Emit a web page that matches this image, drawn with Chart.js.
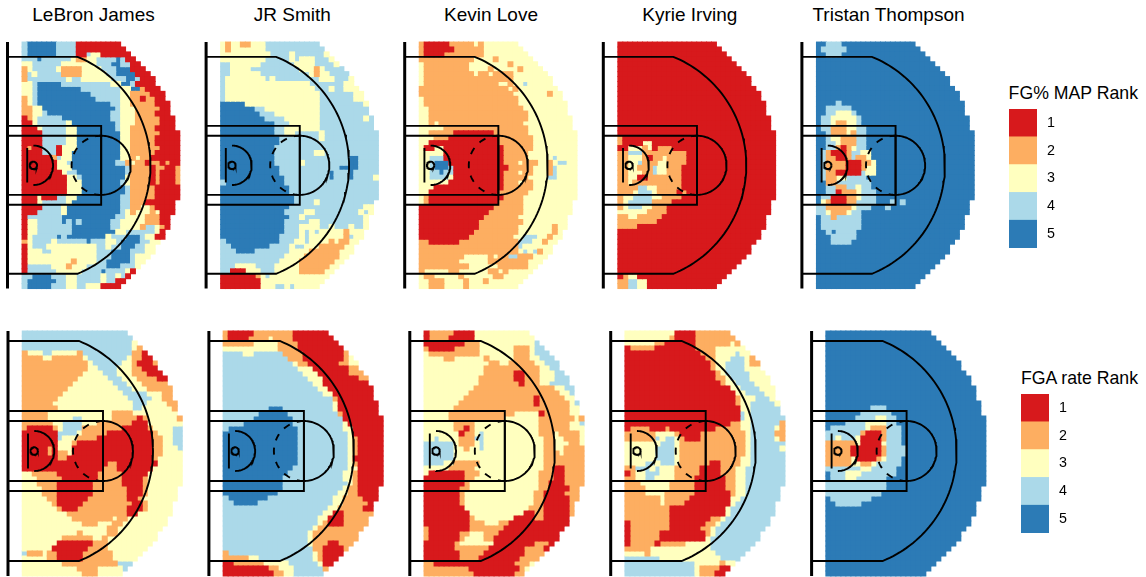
<!DOCTYPE html>
<html><head><meta charset="utf-8">
<script src="https://cdn.jsdelivr.net/npm/chart.js@4"></script>
<style>
html,body{margin:0;padding:0;background:#fff;overflow:hidden}
body{position:relative;width:1146px;height:577px;font-family:"Liberation Sans",Arial,sans-serif;color:#000}
canvas{position:absolute;display:block}
.t{position:absolute;white-space:nowrap;line-height:20px}
</style></head><body>
<script>
// Player names and legend text
const players = ["LeBron James","JR Smith","Kevin Love","Kyrie Irving","Tristan Thompson"];
const rankLabels = ["1","2","3","4","5"];
const rankColors = ["#D7191C","#FDAE61","#FFFFBF","#ABD9E9","#2C7BB6"];
const legendTitles = ["FG% MAP Rank","FGA rate Rank"];
// Number of 1-ft cells per row (half-court outline)
const rowWidths = [20,21,22,23,24,25,26,27,27,28,29,29,30,30,30,31,31,31,32,32,32,32,32,32,32,32,32,32,32,32,32,32,31,31,31,30,30,30,29,29,28,27,27,26,25,24,23,22,21,20];
// Ranks per row: token = rank digit + run length; a bare digit runs to the end of the row
const lebronFg = ["41 56 44 1","41 56 44 1","41 56 44 12 41 32 1","43 51 46 31 22 32 44 51 41 1","32 46 37 43 52 42 1","21 31 45 31 24 34 43 53 1","21 41 31 45 24 35 42 54 1","21 48 31 42 36 43 52 41 1","32 41 55 44 46 32 52 41 1","32 41 59 48 32 52 21 1","32 41 511 46 32 24 1","21 31 41 512 45 32 22 11 22 1","21 31 41 515 42 32 25 1","22 32 515 41 33 25 1","22 32 41 513 42 33 24 1","11 21 31 45 510 42 33 25 1","12 31 46 31 59 41 33 25 1","13 31 45 32 58 41 32 25 1","14 45 32 59 32 26 1","14 45 32 59 32 25 1","14 45 32 59 32 25 1","11 21 12 43 11 33 59 32 26 1","14 43 11 32 510 32 25 1","16 21 41 32 510 32 21 31 22 1","17 32 41 59 42 21 31 22 11 22 11 21 1","17 33 511 41 24 11 22 12 2","18 31 42 510 41 24 11 21 13 2","19 32 41 59 31 24 11 21 13 2","19 33 58 41 31 24 11 21 13 2","19 33 59 41 25 1","19 33 59 41 25 1","13 31 13 42 32 59 42 25 1","13 31 45 31 510 42 23 1","14 44 31 511 42 22 32 21 1","13 45 31 511 41 31 21 33 21 31 1","11 47 511 42 34 23 1","11 32 45 51 41 51 41 56 42 35 23 1","11 32 47 58 42 34 21 42 31 21 1","11 32 47 59 32 46 31 1","11 31 45 51 41 58 31 43 53 41 32 1","21 31 44 31 46 51 43 32 41 54 42 3","11 31 43 310 42 31 42 53 42 3","11 33 42 39 43 54 43 3","11 314 43 54 41 3","11 39 21 34 42 55 41 3","11 45 33 21 33 44 53 43 3","11 46 35 44 51 44 31 1","42 54 43 32 45 31 42 31 41 1","41 56 42 32 45 31 42 1","41 55 43 32 42 33 1"];
const jrFg = ["31 21 32 22 33 4","31 21 37 4","310 44 31 46 31 4","39 45 31 41 33 43 3","42 36 47 34 44 3","42 34 410 33 21 31 4","42 36 410 31 21 32 4","41 38 41 31 49 33 43 31 4","41 317 47 3","41 318 43 31 42 3","41 319 47 3","41 319 47 3","55 315 49 3","57 42 311 4","58 43 39 4","59 44 37 49 31 4","511 43 36 4","511 42 37 4","511 42 32 45 31 4","512 48 31 4","512 4","511 4","511 48 32 4","511 415 52 4","511 45 31 49 52 4","512 412 54 4","512 410 51 43 51 4","513 49 51 43 51 44 3","41 512 4","514 4","514 4","515 4","515 44 31 4","514 415 32","513 44 32 49 31 41 3","514 42 31 412 3","513 45 32 49 3","513 43 34 42 31 43 31 42 3","513 43 31 41 31 41 35 21 33","512 44 31 41 37 21 41 3","41 511 43 32 41 34 21 31 22 3","42 58 44 31 42 33 25 3","43 54 47 34 26 3","413 34 27 3","412 34 27 3","43 34 44 35 26 3","42 13 33 43 35 25 3","17 21 31 41 3","18 3","18 33 42 31 41 3"];
const loveFg = ["21 15 25 31 21 3","21 16 26 3","21 14 28 3","211 34 21 3","31 29 38 21 3","31 29 34 21 35 21 3","31 210 31 22 31 24 3","31 218 3","31 215 32 21 32 41 3","218 31 21 3","219 37 21 3","31 219 3","31 219 3","32 219 3","32 220 3","32 220 3","32 21 31 217 3","35 217 3","32 25 18 27 3","33 23 110 27 3","32 114 27 3","31 12 32 112 26 3","35 112 25 3","32 43 112 25 35 41 3","32 41 53 111 23 31 23 32 21 31 42 3","32 41 53 41 111 25 33 21 41 3","32 42 51 42 110 23 31 22 33 21 41 3","32 44 31 110 25 34 42 3","36 111 23 31 22 3","33 114 26 3","32 114 26 3","31 21 115 24 3","31 21 114 25 3","115 26 3","114 27 3","113 27 3","112 29 3","112 28 37 21 3","111 29 37 21 3","110 29 32 43 32 21 3","22 16 212 43 32 21 3","220 41 3","220 31 41 31 41 21 3","29 35 21 31 22 42 23 3","28 36 28 3","210 36 26 3","21 35 22 36 22 31 21 3","31 22 35 21 36 22 3","32 23 34 21 33 21 3","32 23 34 21 3"];
const kyrieFg = ["1","1","1","1","1","1","1","1","1","1","1","1","1","1","1","1","1","1","1","21 1","21 14 32 1","12 33 21 31 11 23 1","22 43 29 1","22 33 21 11 22 31 24 1","22 32 41 23 32 24 1","22 32 23 41 32 23 1","22 33 22 41 32 23 1","22 32 12 27 1","22 31 210 1","24 42 32 25 1","23 31 43 31 24 11 21 1","21 32 44 32 24 1","21 31 45 24 1","21 31 43 32 23 1","36 24 1","22 32 25 1","28 1","24 1","1","1","1","1","1","1","1","1","1","11 21 32 1","22 42 32 1","22 42 32 1"];
const tristanFg = ["52 43 5","51 45 5","52 43 5","5","5","5","5","5","5","5","5","5","54 41 5","52 45 5","52 42 33 41 5","51 42 35 41 5","51 42 31 22 32 41 5","51 42 23 32 42 5","52 41 23 31 21 42 5","52 41 32 23 42 5","52 42 31 23 42 5","52 42 21 11 21 31 42 5","51 41 21 13 21 42 32 5","51 41 22 12 21 41 22 31 5","51 41 24 13 22 31 5","51 41 24 13 21 32 5","51 41 22 15 41 32 5","51 41 22 32 44 5","52 22 47 5","52 42 22 42 31 42 5","52 42 11 23 31 43 5","51 42 13 22 31 43 5","51 31 21 13 22 44 53 41 51 41 5","42 25 31 43 53 41 5","42 31 23 31 42 5","51 42 21 45 5","51 48 5","51 48 5","52 41 51 44 5","53 45 5","53 44 5","5","5","5","5","5","5","5","5","5"];
const lebronFga = ["4","4","422 3","422 31 2","21 33 42 35 21 410 22 1","24 32 26 31 48 31 22 1","213 31 46 32 21 13 2","213 32 44 33 22 13 2","212 34 43 33 23 13","211 36 43 33 24 1","210 38 43 33 2","29 310 43 33 2","28 312 45 33 2","27 314 45 32 2","26 316 43 34 2","27 315 42 36 2","25 313 24 3","25 35 42 36 25 11 21 36 2","26 32 44 33 27 13 3","21 15 21 31 44 28 15 21 34 4","17 44 31 25 19 21 33 4","17 41 33 24 111 22 32 4","17 31 32 21 115 22 32 4","15 21 11 33 116 22 33 4","15 21 11 22 31 116 22 3","17 22 117 21 3","117 22 18 3","116 23 17 3","32 25 18 25 15 3","33 25 17 25 14 21 3","33 24 17 26 14 21 3","34 23 17 27 13 21 3","34 23 17 27 13 21 3","35 22 16 28 12 21 3","36 21 15 210 12 21 3","37 21 13 210 13 21 3","39 212 12 3","310 28 31 22 3","312 23 33 22 3","317 22 3","311 21 35 22 3","38 26 32 21 3","37 17 23 3","36 17 24 3","41 23 31 22 15 26 3","35 22 15 26 3","38 211 43 3","311 24 35 4","312 23 3"];
const jrFga = ["21 15 28 1","21 14 24 31 24 1","26 35 24 1","311 24 1","44 32 46 24 18 21 3","413 23 18 21 3","414 31 22 16 22 3","415 33 17 22 3","416 33 16 23","417 33 17 2","418 32 1","419 32 1","420 32 1","422 21 1","422 31 1","49 53 410 31 1","47 56 410 21 1","46 58 410 1","44 510 410 31 1","41 514 49 32 1","515 410 31 1","515 410 31 21 1","515 410 31 21 1","515 410 31 21 1","515 410 31 21 1","515 410 31 1","515 410 31 21 1","514 411 32 1","513 411 32 21 1","512 412 32 21 1","512 413 31 21 1","512 412 31 22 1","511 412 32 22 1","41 58 413 32 24 1","42 55 415 32 25 1","421 32 25 1","420 32 12 2","419 32 13 2","419 31 21 13 2","418 31 2","417 31 2","417 31 2","417 31 23 12 2","418 22 14 2","21 417 31 21 14 2","25 32 411 31 21 13 3","12 26 35 46 31 1","19 22 33 46 2","110 22 32 4"];
const loveFga = ["11 25 14 3","11 24 15 3","18 23 311 4","21 15 25 37 23 31 4","31 210 37 23 31 4","34 22 36 21 35 23 32 4","313 22 32 25 32 4","312 211 32 4","312 26 12 23 33 4","311 27 12 23 33 4","311 28 11 23 32 4","310 216 32 4","39 218 32 4","38 214 11 25 33 4","37 215 11 26 31 4","36 223 3","35 213 35 11 25 3","35 211 37 27 31 2","36 24 313 26 32 4","36 22 11 21 313 26 3","37 11 22 31 41 311 23 31 24 3","32 41 34 23 42 312 22 32 23 3","46 31 23 31 41 312 22 33 22 3","46 32 21 32 41 312 22 32 2","46 318 23 31 2","46 318 2","44 32 25 313 2","35 25 314 22 12 2","31 17 23 312 23 12 2","18 22 313 23 12 2","18 21 314 22 13 2","17 22 314 22 14 2","17 21 314 22 14 2","17 21 314 22 15 2","17 21 314 22 15 2","18 313 23 15 2","19 311 12 22 15 2","19 21 38 14 22 1","19 23 33 22 1","21 18 27 1","21 16 22 33 23 1","21 16 21 34 22 1","16 21 37 18 23 1","16 27 17 24 1","17 25 18 23 2","17 24 18 24 3","22 116 23 3","29 110 21 3","210 18 2"];
const kyrieFga = ["310 14 2","39 21 14 2","36 22 16 27 31 2","11 25 18 24 3","115 23 34 41 3","116 22 33 43 31 2","117 21 32 44 31 2","117 21 32 44 3","118 21 31 45 3","118 22 31 44 3","119 21 32 44 3","121 32 44 3","122 32 44 3","122 21 33 43 3","122 21 32 45 3","123 32 4","123 41 31 4","123 41 31 4","121 22 32 46 2","11 24 13 21 19 25 32 45 31 2","26 34 21 14 29 31 45 2","26 41 31 42 31 21 13 29 31 45 31 2","37 43 31 213 31 4","36 44 31 213 31 46 3","36 44 31 213 31 4","36 44 31 212 32 4","34 42 31 43 31 26 12 24 32 4","22 43 31 41 33 25 14 23 32 4","11 21 32 43 33 25 14 23 32 4","22 32 42 34 24 16 22 32 4","23 36 25 16 22 32 4","24 35 25 16 22 32 4","24 34 26 17 21 32 4","27 31 25 18 32 4","27 31 24 19 31 4","29 111 31 4","29 111 31 4","29 18 22 31 4","11 28 17 22 31 4","11 28 16 22 31 4","11 26 19 21 31 4","11 26 19 31 4","11 25 11 25 35 4","25 312 4","34 21 313 4","47 312 44 3","414 35 21 32","414 31 24 1","414 31 23 1"];
const tristanFga = ["5","5","5","5","5","5","5","5","5","5","5","5","5","5","5","59 43 5","57 46 5","56 44 32 42 5","54 44 34 42 5","51 47 31 23 43 5","47 21 13 21 43 5","42 31 43 31 14 21 43 5","26 31 14 31 43 5","25 16 21 44 5","25 16 21 44 5","25 31 14 21 31 43 5","25 32 22 31 45 5","47 32 45 5","51 43 33 47 5","51 43 32 46 5","412 5","412 5","411 5","51 48 5","52 45 5","5","5","5","5","5","5","5","5","5","5","5","5","5","5"];

// Layout of the two rows of panels
const topRow = {grids:[lebronFg,jrFg,loveFg,kyrieFg,tristanFg], firstRow:0, base:7.5, step:198.6, scale:4.93, hoopY:165.3, top:40, height:251, gridX:2.95};
const botRow = {grids:[lebronFga,jrFga,loveFga,kyrieFga,tristanFga], firstRow:1, base:8, step:200.9, scale:5, hoopY:451, top:329, height:248, gridX:2.85};
const panelWidth = 182;

function decodeRow(text, width){
  const out = [];
  let last = 5;
  text.split(" ").forEach(tok => {
    last = +tok[0];
    const n = tok.length > 1 ? +tok.slice(1) : width;
    for (let i = 0; i < n; i++) out.push(last);
  });
  while (out.length < width) out.push(last);
  out.length = width;
  return out;
}
function arc(cx, cy, r, a0, a1){
  const pts = [];
  for (let i = 0; i <= 72; i++){
    const a = (a0 + (a1 - a0) * i / 72) * Math.PI / 180;
    pts.push({x: cx + r * Math.cos(a), y: cy + r * Math.sin(a)});
  }
  return pts;
}
function rect(x0, y0, x1, y1){
  return [{x:x0,y:y0},{x:x1,y:y0},{x:x1,y:y1},{x:x0,y:y1}];
}
function courtDatasets(firstRow){
  const a3 = Math.asin(22 / 23.75) * 180 / Math.PI;
  const line = (data, width, dash) => ({type:"scatter", data, showLine:true, pointRadius:0, borderColor:"#000", borderWidth:width, borderDash:dash || [], order:0, fill:false, borderCapStyle:"butt"});
  return [
    line([{x:0,y:firstRow},{x:0,y:50}], 3),
    line([{x:0,y:3}].concat(arc(5.25,25,23.75,-a3,a3)).concat([{x:0,y:47}]), 1.9),
    line(rect(0,17,19,33), 1.9),
    line(rect(0,19,19,31), 1.9),
    line(arc(19,25,6,-90,90), 1.9),
    line(arc(19,25,6,90,270), 1.9, [7,7.5]),
    line(arc(5.25,25,4,-90,90), 1.9),
    line([{x:4,y:21.5},{x:4,y:28.5}], 1.9),
    line(arc(5.25,25,0.75,0,360), 1.9)
  ];
}
function addCanvas(left, top, w, h){
  const c = document.createElement("canvas");
  c.width = w; c.height = h;
  c.style.cssText = `left:${left}px;top:${top}px;width:${w}px;height:${h}px`;
  document.body.appendChild(c);
  return c;
}
function addText(str, x, y, size, anchor){
  const d = document.createElement("div");
  d.className = "t";
  d.textContent = str;
  d.style.left = x + "px";
  d.style.top = (y - 10) + "px";
  d.style.fontSize = size + "px";
  if (anchor === "center") d.style.transform = "translateX(-50%)";
  if (anchor === "right") d.style.transform = "translateX(-100%)";
  document.body.appendChild(d);
}
function drawPanel(row, idx){
  const bx = row.base + row.step * idx;
  const left = Math.round(bx) - 4;
  const radius = (row.scale / 2 + 0.5) / Math.SQRT1_2;
  const cells = rankColors.map((color, k) => ({type:"scatter", data:[], backgroundColor:color, pointBackgroundColor:color, pointStyle:"rect", pointRadius:radius, pointBorderWidth:0, borderWidth:0, showLine:false, order:1, clip:false}));
  row.grids[idx].forEach((text, i) => {
    const r = i + row.firstRow;
    decodeRow(text, rowWidths[r]).forEach((rank, c) => {
      cells[rank - 1].data.push({x: row.gridX + c + 0.5, y: r + 0.5});
    });
  });
  const xMin = (left - bx) / row.scale;
  const yMin = 25 + (row.top - row.hoopY) / row.scale;
  new Chart(addCanvas(left, row.top, panelWidth, row.height), {
    type:"scatter",
    data:{datasets: courtDatasets(row.firstRow).concat(cells)},
    options:{
      responsive:false, animation:false, devicePixelRatio:1,
      layout:{padding:0, autoPadding:false},
      plugins:{legend:{display:false}, tooltip:{enabled:false}, title:{display:false}},
      scales:{
        x:{type:"linear", display:false, min:xMin, max:xMin + panelWidth / row.scale},
        y:{type:"linear", display:false, reverse:true, min:yMin, max:yMin + row.height / row.scale}
      }
    }
  });
}
function drawLegend(left, top, title, titleRight, titleY){
  addText(title, titleRight, titleY, 17.7, "right");
  const w = 28, h = 139, pad = 8;
  new Chart(addCanvas(left, top - pad, 60, h + 2 * pad), {
    type:"bar",
    data:{labels:rankLabels, datasets:[{data:rankLabels.map(() => 1), backgroundColor:rankColors, borderWidth:0, barPercentage:1, categoryPercentage:1}]},
    options:{
      indexAxis:"y", responsive:false, animation:false, devicePixelRatio:1,
      layout:{padding:0, autoPadding:false},
      plugins:{legend:{display:false}, tooltip:{enabled:false}},
      scales:{
        x:{display:false, min:0, max:1},
        y:{position:"right", grid:{display:false, drawTicks:true, tickLength:10}, border:{display:false},
           afterFit:s => { s.width = 60 - w; },
           ticks:{padding:0, color:"#000", font:{family:"Liberation Sans", size:14.3, lineHeight:"16px"}}}
      }
    }
  });
}
[topRow, botRow].forEach(row => players.forEach((_, i) => drawPanel(row, i)));
players.forEach((name, i) => addText(name, 93.5 + 198.75 * i, 15, 19, "center"));
drawLegend(1009, 109, legendTitles[0], 1138, 93);
drawLegend(1021, 394, legendTitles[1], 1138, 378);
</script>
</body></html>
